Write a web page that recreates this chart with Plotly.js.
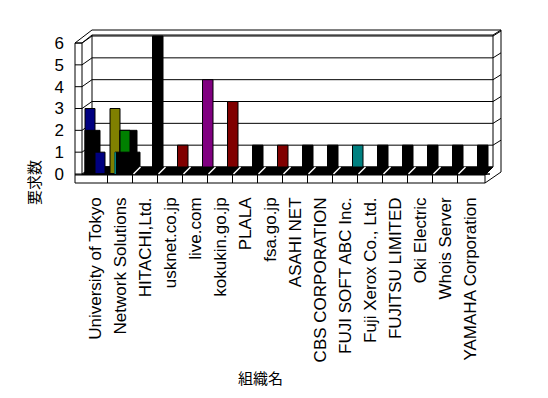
<!DOCTYPE html>
<html><head><meta charset="utf-8">
<script src="https://cdn.plot.ly/plotly-3.0.1.min.js"></script>
<style>html,body{margin:0;padding:0;background:#fff}#chart{width:548px;height:398px}</style>
</head><body><div id="chart"></div>
<script>
// ---- data ----
const categories = ['University of Tokyo','Network Solutions','HITACHI,Ltd.','usknet.co.jp','live.com','kokukin.go.jp','PLALA','fsa.go.jp','ASAHI NET','CBS CORPORATION','FUJI SOFT ABC Inc.','Fuji Xerox Co., Ltd.','FUJITSU LIMITED','Oki Electric','Whois Server','YAMAHA Corporation'];
const yTicks = [0,1,2,3,4,5,6];
const backRow   = [0,0,6,1,4,3,1,1,1,1,1,1,1,1,1,1];
const frontLeft = [3,3,0,0,0,0,0,0,0,0,0,0,0,0,0,0];
const frontBlackA = [2,0,0,0,0,0,0,0,0,0,0,0,0,0,0,0];
const frontBlackB = [0,2,0,0,0,0,0,0,0,0,0,0,0,0,0,0];
const frontRight = [1,2,0,0,0,0,0,0,0,0,0,0,0,0,0,0];
const frontBlackC = [0,1,0,0,0,0,0,0,0,0,0,0,0,0,0,0];
const frontTeal  = [0,1,0,0,0,0,0,0,0,0,0,0,0,0,0,0];

// ---- styles ----
const NAVY='#000080',OLIVE='#808000',GREEN='#008000',MAROON='#800000',PURPLE='#800080',TEAL='#008080',BLACK='#000000';
const backColors = [BLACK,BLACK,BLACK,MAROON,PURPLE,MAROON,BLACK,MAROON,BLACK,BLACK,TEAL,BLACK,BLACK,BLACK,BLACK,BLACK];
const frontLeftColors = [NAVY,OLIVE].concat(Array(14).fill(NAVY));
const frontRightColors = [NAVY,GREEN].concat(Array(14).fill(NAVY));
const DEPTH = 0.32;

const idx = categories.map((_,i)=>i);
const L=75,R=500,T=27,B=183;
const px = x => (x-L)/(R-L);
const py = y => (B-y)/(B-T);
const yf = v => 174 - 21.83*v;   // front wall pixel y
const yb = v => yf(v) - 7;        // back wall pixel y
const ln = {color:'#000',width:1};
function seg(x0,y0,x1,y1){return {type:'line',xref:'paper',yref:'paper',x0:px(x0),y0:py(y0),x1:px(x1),y1:py(y1),line:ln,layer:'below'};}
function rect(x0,y0,x1,y1,fill){return {type:'rect',xref:'paper',yref:'paper',x0:px(x0),y0:py(y1),x1:px(x1),y1:py(y0),fillcolor:fill,line:ln,layer:'below'};}
function poly(pts,fill){return {type:'path',xref:'paper',yref:'paper',path:'M'+pts.map(p=>px(p[0])+','+py(p[1])).join(' L')+' Z',fillcolor:fill,line:ln,layer:'below'};}

const shapes = [];
shapes.push(rect(92,35,493,167,'#fff'));
shapes.push(seg(92,30,501,30), seg(501,30,501,172), seg(493,35,501,30));
yTicks.filter(v=>v>0).forEach(v=>{ shapes.push(seg(92,yb(v),493,yb(v)), seg(493,yb(v),501,yb(v)-5)); });
shapes.push(rect(75,43,82,175,'#fff'));
shapes.push(seg(75,43,92,30), seg(82,43,92,35));
yTicks.forEach(v=>{ shapes.push(seg(75,yf(v),82,yf(v)), seg(82,yf(v),92,yb(v))); });
shapes.push(poly([[82,175],[92,167],[493,167],[485,175]],'#000'));
shapes.push(rect(75,175,485,183,'#fff'));
shapes.push(seg(485,183,501,172));
idx.slice(0,-1).forEach(i=>{ const x=95+25*(i+0.5); shapes.push(seg(x,175,x,183)); });

const barLine = {color:'#000',width:1};
const noFront = i => frontLeft[i]+frontBlackA[i]+frontBlackB[i]+frontRight[i]===0;
const traces = [
  {type:'bar',x:idx,y:backRow,base:DEPTH,offset:0.3,width:0.42,marker:{color:backColors,line:barLine}},
  {type:'bar',x:idx,y:frontLeft,offset:-0.4,width:0.4,marker:{color:frontLeftColors,line:barLine}},
  {type:'bar',x:idx,y:frontBlackA,offset:-0.4,width:0.6,marker:{color:BLACK,line:barLine}},
  {type:'bar',x:idx,y:frontBlackB,offset:0.0,width:0.68,marker:{color:BLACK,line:barLine}},
  {type:'bar',x:idx,y:frontRight,offset:0.0,width:0.4,marker:{color:frontRightColors,line:barLine}},
  {type:'bar',x:idx,y:frontBlackC,offset:-0.2,width:1.0,marker:{color:BLACK,line:barLine}},
  {type:'bar',x:idx,y:frontTeal,offset:-0.22,width:0.06,marker:{color:TEAL,line:{width:0}}},
  {type:'scatter',mode:'markers',
   x:idx.filter(noFront).map(i=>i-0.32),
   y:idx.filter(noFront).map(()=>DEPTH/2),
   marker:{symbol:'line-ne',size:7,line:{color:'#fff',width:1.5}}}
];

const layout = {
  width:548,height:398,margin:{l:L,r:548-R,t:T,b:398-B},
  paper_bgcolor:'#fff',plot_bgcolor:'rgba(0,0,0,0)',
  showlegend:false,barmode:'overlay',hovermode:false,
  font:{family:'Liberation Sans, Arial, sans-serif',color:'#000',size:17},
  xaxis:{range:[-0.8,16.2],tickvals:idx,ticktext:categories,tickangle:-90,ticks:'',showgrid:false,zeroline:false,showline:false,
         tickfont:{size:17},ticklabelstandoff:10},
  yaxis:{range:[-0.412,6.733],tickvals:yTicks,ticks:'',showgrid:false,zeroline:false,showline:false,tickfont:{size:17},ticklabelstandoff:10},
  shapes:shapes,
  annotations:[
    {text:'要求数',xref:'paper',yref:'paper',x:px(33),y:py(183),xanchor:'center',yanchor:'middle',textangle:-90,showarrow:false,font:{family:'Noto Sans CJK JP',size:15}},
    {text:'組織名',xref:'paper',yref:'paper',x:px(260),y:py(377),xanchor:'center',yanchor:'middle',showarrow:false,font:{family:'Noto Sans CJK JP',size:15}}
  ]
};
Plotly.newPlot('chart',traces,layout,{staticPlot:true,displayModeBar:false});
</script></body></html>
